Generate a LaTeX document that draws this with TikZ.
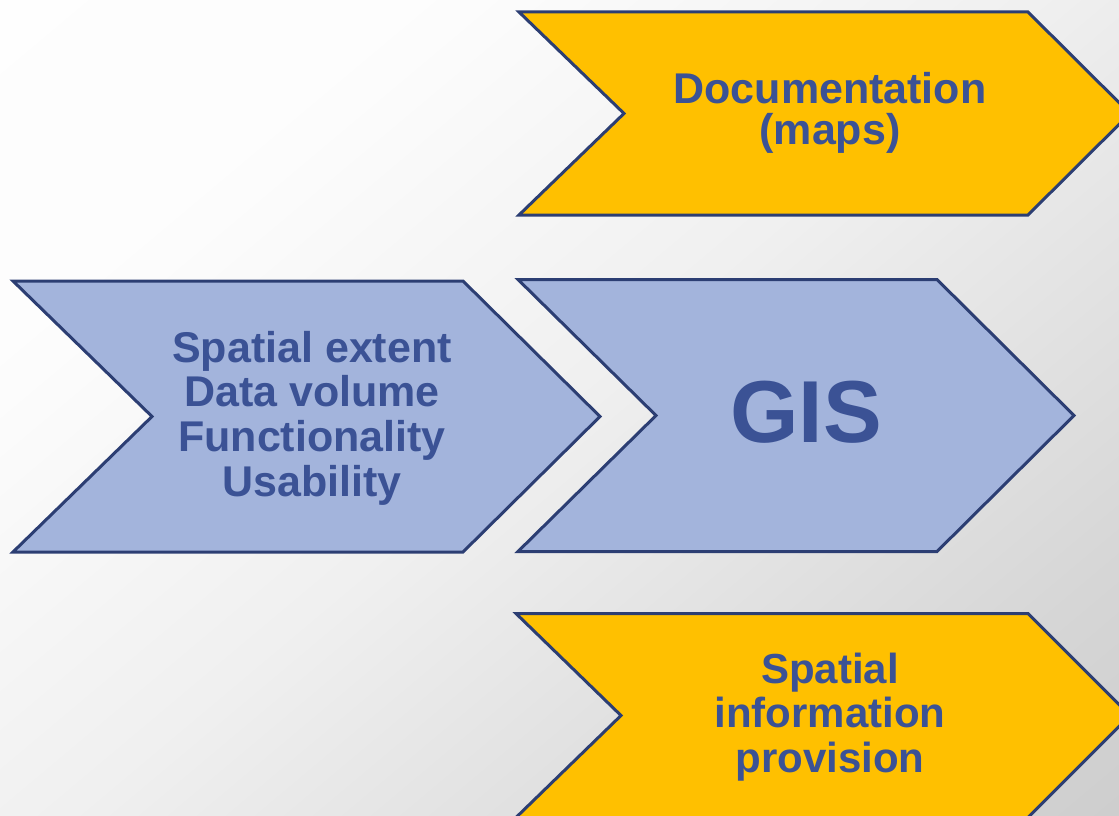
\documentclass[tikz,border=0pt]{standalone}
\usepackage{fontspec}
\setmainfont{Liberation Sans}
\definecolor{chevblue}{RGB}{163,180,220}
\definecolor{chevyellow}{RGB}{255,192,0}
\definecolor{chevline}{RGB}{44,62,115}
\definecolor{txtblue}{RGB}{59,82,149}
\pgfdeclareverticalshading{bgshade}{100bp}{color(0bp)=(white!76!black); color(25bp)=(white!84!black); color(50bp)=(white!94!black); color(70bp)=(white!99!black); color(100bp)=(white)}
\tikzset{
  chev/.style={draw=chevline, line width=3pt, line join=miter},
  bluechev/.style={chev, fill=chevblue},
  yellowchev/.style={chev, fill=chevyellow},
  lbl/.style={text=txtblue, font=\bfseries, align=center, inner sep=0pt}
}
\begin{document}
\begin{tikzpicture}[x=1pt,y=-1pt]
\useasboundingbox (0,0) rectangle (1119,816);
\clip (0,0) rectangle (1119,816);
\shade[shading=bgshade, shading angle=40] (0,0) rectangle (1119,816);
% top yellow chevron
\draw[yellowchev] (519,12) -- (1028,12) -- (1130,113.5) -- (1028,215) -- (519,215) -- (624,113.5) -- cycle;
% left blue chevron
\draw[bluechev] (13,281) -- (463,281) -- (600,416.5) -- (463,552) -- (13,552) -- (152,416.5) -- cycle;
% GIS chevron
\draw[bluechev] (518,279.5) -- (937,279.5) -- (1074,415.5) -- (937,551.5) -- (518,551.5) -- (656,415.5) -- cycle;
% bottom yellow chevron
\draw[yellowchev] (516,613.5) -- (1028,613.5) -- (1130,715.5) -- (1028,817.5) -- (516,817.5) -- (621,715.5) -- cycle;
% labels
\node[lbl, font=\bfseries\fontsize{43}{40.5}\selectfont] (doc) at (830,113) {Documentation\\(maps)};
\node[lbl, font=\bfseries\fontsize{43}{44.7}\selectfont] (crit) at (312,418) {Spatial extent\\Data volume\\Functionality\\Usability};
\node[lbl, font=\bfseries\fontsize{88}{96}\selectfont, anchor=base] (gis) at (806,442) {GIS};
\node[lbl, font=\bfseries\fontsize{42}{44.5}\selectfont] (prov) at (830,717) {Spatial\\information\\provision};
\end{tikzpicture}
\end{document}
